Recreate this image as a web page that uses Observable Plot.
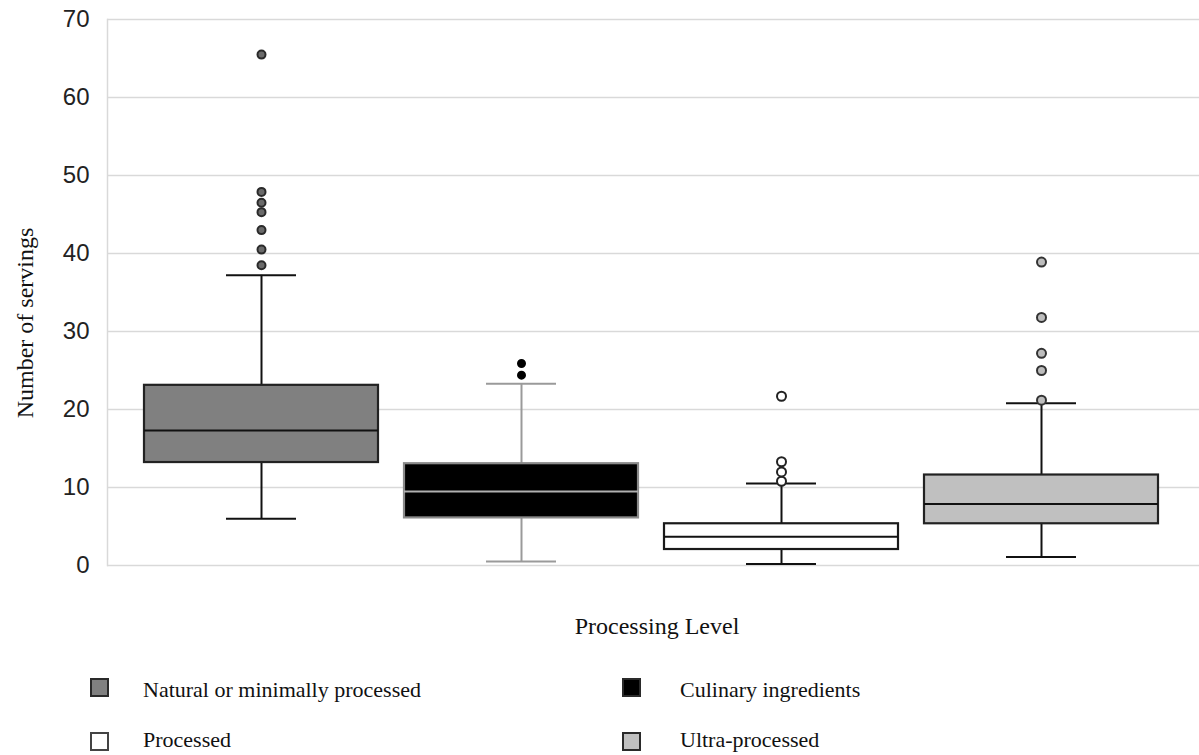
<!DOCTYPE html>
<html>
<head>
<meta charset="utf-8">
<script src="https://cdn.jsdelivr.net/npm/d3@7"></script>
<script src="https://cdn.jsdelivr.net/npm/@observablehq/plot@0.6"></script>
<style>
  html, body { margin: 0; padding: 0; background: #fff; overflow: hidden; }
  #wrap { position: relative; width: 1199px; height: 755px; }
  .serif { font-family: "Liberation Serif", "Times New Roman", serif; color: #111; white-space: nowrap; position: absolute; }
  .sw { position: absolute; width: 19px; height: 19px; box-sizing: border-box; border: 2px solid #333; }
</style>
</head>
<body>
<div id="wrap"></div>
<script>
// ---- data ----
const categories = ["Natural or minimally processed", "Culinary ingredients", "Processed", "Ultra-processed"];
const whiskerLow  = [6.0, 0.5, 0.2, 1.1];
const q1          = [13.2, 6.1, 2.05, 5.35];
const median      = [17.3, 9.5, 3.7, 7.9];
const q3          = [23.1, 13.05, 5.35, 11.6];
const whiskerHigh = [37.2, 23.3, 10.5, 20.8];
const outliers = [
  [38.5, 40.5, 43.0, 45.3, 46.5, 47.9, 65.5],
  [24.4, 25.9],
  [10.8, 12.0, 13.3, 21.7],
  [21.2, 25.0, 27.2, 31.8, 38.9]
];
const yTicks = [0, 10, 20, 30, 40, 50, 60, 70];

// ---- styles ----
const boxFill     = {[categories[0]]: "#808080", [categories[1]]: "#000000", [categories[2]]: "#ffffff", [categories[3]]: "#c0c0c0"};
const boxStroke   = {[categories[0]]: "#222222", [categories[1]]: "#8a8a8a", [categories[2]]: "#1a1a1a", [categories[3]]: "#222222"};
const lineStroke  = {[categories[0]]: "#111111", [categories[1]]: "#9a9a9a", [categories[2]]: "#111111", [categories[3]]: "#111111"};
const medStroke   = {[categories[0]]: "#111111", [categories[1]]: "#b0b0b0", [categories[2]]: "#111111", [categories[3]]: "#111111"};
const dotFill     = {[categories[0]]: "#6a6a6a", [categories[1]]: "#000000", [categories[2]]: "#ffffff", [categories[3]]: "#bdbdbd"};
const dotStroke   = {[categories[0]]: "#2a2a2a", [categories[1]]: "#000000", [categories[2]]: "#222222", [categories[3]]: "#333333"};
const dotR        = {[categories[0]]: 4, [categories[1]]: 3.5, [categories[2]]: 4.5, [categories[3]]: 4.5};

const boxes = categories.map((c, i) => ({cat: c, lo: whiskerLow[i], q1: q1[i], med: median[i], q3: q3[i], hi: whiskerHigh[i]}));
const points = categories.flatMap((c, i) => outliers[i].map(v => ({cat: c, v})));

const chart = Plot.plot({
  width: 1199,
  height: 600,
  marginLeft: 107,
  marginRight: 0,
  marginTop: 19,
  marginBottom: 35,
  style: {fontFamily: "'Liberation Sans', Arial, sans-serif", fontSize: "24px", color: "#222", background: "#fff"},
  x: {domain: categories, range: [143, 1158.5], paddingInner: 0.1, paddingOuter: 0, axis: null},
  y: {domain: [0, 70], label: null},
  r: {type: "identity"},
  marks: [
    Plot.ruleY(yTicks, {stroke: "#d9d9d9", strokeWidth: 1.5}),
    Plot.frame({anchor: "left", stroke: "#d9d9d9", strokeWidth: 1.5}),
    Plot.axisY({ticks: yTicks, tickSize: 0, tickPadding: 18, label: null, fill: "#222"}),
    Plot.ruleX(boxes, {x: "cat", y1: "lo", y2: "q1", stroke: d => lineStroke[d.cat], strokeWidth: 2}),
    Plot.ruleX(boxes, {x: "cat", y1: "q3", y2: "hi", stroke: d => lineStroke[d.cat], strokeWidth: 2}),
    Plot.tickY(boxes, {x: "cat", y: "lo", stroke: d => lineStroke[d.cat], strokeWidth: 2, insetLeft: 82, insetRight: 82}),
    Plot.tickY(boxes, {x: "cat", y: "hi", stroke: d => lineStroke[d.cat], strokeWidth: 2, insetLeft: 82, insetRight: 82}),
    Plot.barY(boxes, {x: "cat", y1: "q1", y2: "q3", fill: d => boxFill[d.cat], stroke: d => boxStroke[d.cat], strokeWidth: 2.2}),
    Plot.tickY(boxes, {x: "cat", y: "med", stroke: d => medStroke[d.cat], strokeWidth: 2}),
    Plot.dot(points, {x: "cat", y: "v", r: d => dotR[d.cat], fill: d => dotFill[d.cat], stroke: d => dotStroke[d.cat], strokeWidth: 2})
  ]
});

const wrap = document.getElementById("wrap");
chart.style.position = "absolute";
chart.style.left = "0px";
chart.style.top = "0px";
wrap.appendChild(chart);

// axis titles
const yTitle = document.createElement("div");
yTitle.className = "serif";
yTitle.textContent = "Number of servings";
Object.assign(yTitle.style, {fontSize: "24px", lineHeight: "24px", left: "25px", top: "323px", transform: "translate(-50%, -50%) rotate(-90deg)"});
wrap.appendChild(yTitle);

const xTitle = document.createElement("div");
xTitle.className = "serif";
xTitle.textContent = "Processing Level";
Object.assign(xTitle.style, {fontSize: "24px", lineHeight: "24px", left: "657px", top: "614px", transform: "translateX(-50%)"});
wrap.appendChild(xTitle);

// legend
const legendPos = [
  {sx: 90, tx: 143, sy: 678, ty: 679},
  {sx: 622, tx: 680, sy: 678, ty: 679},
  {sx: 90, tx: 143, sy: 732, ty: 729},
  {sx: 622, tx: 680, sy: 732, ty: 729}
];
categories.forEach((c, i) => {
  const p = legendPos[i];
  const sw = document.createElement("div");
  sw.className = "sw";
  Object.assign(sw.style, {left: p.sx + "px", top: p.sy + "px", background: boxFill[c], borderColor: i === 2 ? "#444" : "#2a2a2a"});
  wrap.appendChild(sw);
  const t = document.createElement("div");
  t.className = "serif";
  t.textContent = c;
  Object.assign(t.style, {fontSize: "22px", lineHeight: "22px", left: p.tx + "px", top: p.ty + "px"});
  wrap.appendChild(t);
});
</script>
</body>
</html>
